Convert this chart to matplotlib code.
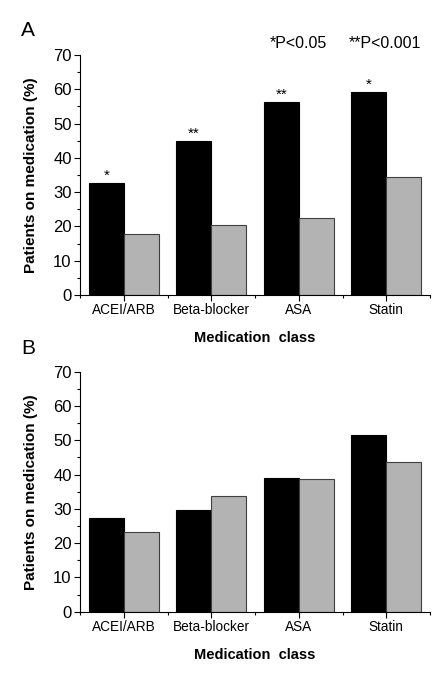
import matplotlib
matplotlib.use("Agg")
import matplotlib.pyplot as plt
import numpy as np

plt.rcParams['font.family'] = ['Liberation Sans', 'DejaVu Sans']

categories = ['ACEI/ARB', 'Beta-blocker', 'ASA', 'Statin']

# panel A
a_black = [32.6, 44.9, 56.3, 59.1]
a_gray = [17.7, 20.4, 22.6, 34.4]
a_stars = ['*', '**', '**', '*']

# panel B
b_black = [27.2, 29.7, 39.1, 51.5]
b_gray = [23.4, 33.9, 38.7, 43.6]

fig = plt.figure(figsize=(4.45, 6.8), dpi=100)

def panel(ax, black, gray, stars=None):
    x = np.arange(len(categories))
    w = 0.4
    ax.bar(x - w/2, black, w, color='black', edgecolor='black', linewidth=0.8)
    ax.bar(x + w/2, gray, w, color='#b3b3b3', edgecolor='#404040', linewidth=0.8)
    if stars:
        for xi, v, s in zip(x, black, stars):
            ax.text(xi - w/2, v + 0.1, s, ha='center', va='bottom', fontsize=11)
    ax.set_xlim(-0.5, 3.5)
    ax.set_ylim(0, 70)
    ax.set_xticks(x)
    ax.set_xticklabels(categories, fontsize=9.8)
    ax.set_xticks(np.arange(-0.5, 3.6, 1), minor=True)
    ax.set_yticks(np.arange(0, 71, 10))
    ax.set_yticks(np.arange(0, 71, 5), minor=True)
    ax.tick_params(axis='y', labelsize=12, length=4, width=0.8, pad=2)
    ax.tick_params(axis='x', length=4, width=0.8, pad=2)
    ax.tick_params(which='minor', length=2.5, width=0.8)
    for sp in ['top', 'right']:
        ax.spines[sp].set_visible(False)
    for sp in ['left', 'bottom']:
        ax.spines[sp].set_linewidth(0.8)
    ax.set_ylabel('Patients on medication (%)', fontsize=11, fontweight='bold', labelpad=11)
    ax.set_xlabel('Medication  class', fontsize=10.5, fontweight='bold', labelpad=10)

ax1 = fig.add_axes([0.1798, 0.5662, 0.7865, 0.3529])
panel(ax1, a_black, a_gray, a_stars)
ax2 = fig.add_axes([0.1798, 0.1004, 0.7865, 0.3529])
panel(ax2, b_black, b_gray)

fig.text(0.048, 0.955, 'A', fontsize=15, va='center')
fig.text(0.048, 0.488, 'B', fontsize=15, va='center')
fig.text(0.607, 0.936, '*P<0.05', fontsize=11.5, va='center')
fig.text(0.783, 0.936, '**P<0.001', fontsize=11.5, va='center')

fig.savefig('out.png', dpi=100)
